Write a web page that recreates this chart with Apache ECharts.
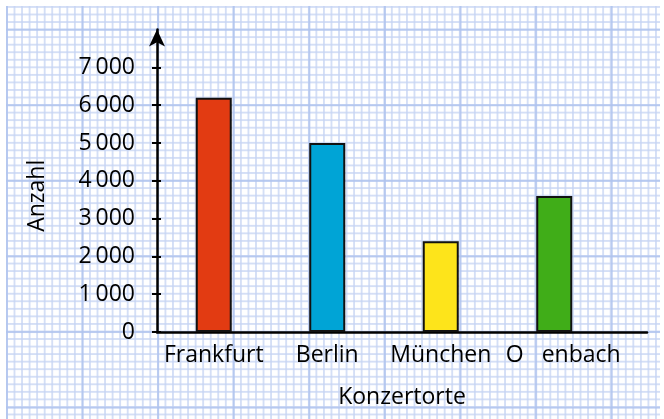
<!DOCTYPE html>
<html>
<head>
<meta charset="utf-8">
<script src="https://cdn.jsdelivr.net/npm/echarts@6/dist/echarts.min.js"></script>
<style>
html,body{margin:0;padding:0;background:#fff;}
#wrap{position:relative;width:664px;height:419px;overflow:hidden;background:#fff;}
#paper{position:absolute;left:6px;top:6px;width:654px;height:413px;
background-image:
 linear-gradient(to right, rgba(175,195,238,0.8) 2px, transparent 2px),
 linear-gradient(to bottom, rgba(175,195,238,0.8) 2px, transparent 2px),
 linear-gradient(to right, rgba(198,212,243,0.75) 1.5px, transparent 1.5px),
 linear-gradient(to bottom, rgba(198,212,243,0.75) 1.5px, transparent 1.5px);
background-size:75.6px 75.6px,75.6px 75.6px,7.56px 7.56px,7.56px 7.56px;
background-position:0px 0px,0px 22.7px,0px 0px,0px 0px;}
#chart{position:absolute;left:0;top:0;width:664px;height:419px;}
</style>
</head>
<body>
<div id="wrap"><div id="paper"></div><div id="chart"></div></div>
<script>
const categories = ['Frankfurt', 'Berlin', 'München', 'O   enbach'];
const values = [6200, 5000, 2400, 3600];
const colors = ['#e23b12', '#00a4d6', '#fde41b', '#40ad18'];
const tickValues = [0, 1000, 2000, 3000, 4000, 5000, 6000, 7000];

const font = '"Open Sans", "DejaVu Sans", sans-serif';
const fs = 23;
const chart = echarts.init(document.getElementById('chart'), null, {renderer: 'canvas'});
function fmt(v){ return v >= 1000 ? Math.floor(v/1000) + '\u2009' + String(v % 1000).padStart(3, '0') : String(v); }

chart.setOption({
  backgroundColor: 'transparent',
  animation: false,
  grid: [
    {left: 157, right: 53, top: 29.6, bottom: 87},
    {left: 157, right: 17, top: 29.6, bottom: 87}
  ],
  xAxis: [
    {
      type: 'category', gridIndex: 0, data: categories,
      axisLine: {show: false}, axisTick: {show: false},
      axisLabel: {
        interval: 0, hideOverlap: false,
        margin: 12, color: '#000', fontFamily: font, fontSize: fs,
        formatter: function(v, i){ return i === 3 ? '{o|' + v + '}' : v; },
        rich: {o: {padding: [0, 0, 0, 18], color: '#000', fontFamily: font, fontSize: fs}}
      },
      splitLine: {show: false}
    },
    {
      type: 'value', gridIndex: 1, min: 0, max: 1,
      axisLine: {show: true, onZero: false, lineStyle: {color: '#000', width: 2.5}},
      axisTick: {show: false}, axisLabel: {show: false}, splitLine: {show: false},
      name: 'Konzertorte', nameLocation: 'middle', nameGap: 54,
      nameTextStyle: {color: '#000', fontFamily: font, fontSize: fs}
    }
  ],
  yAxis: [
    {
      type: 'value', gridIndex: 0, position: 'left', min: 0, max: 8000, interval: 1000,
      axisLine: {show: true, lineStyle: {color: '#000', width: 2.5}, symbol: ['none', 'arrow'], symbolSize: [12, 17], symbolOffset: [0, 0]},
      axisTick: {show: true, length: 5, customValues: tickValues, lineStyle: {color: '#000', width: 2}},
      axisLabel: {margin: 22, customValues: tickValues, color: '#000', fontFamily: font, fontSize: fs, formatter: fmt},
      splitLine: {show: false},
      name: 'Anzahl', nameLocation: 'middle', nameGap: 108, nameRotate: 90,
      nameTextStyle: {color: '#000', fontFamily: font, fontSize: fs, padding: [0, 30, 0, 0]}
    },
    {
      type: 'value', gridIndex: 0, position: 'left', offset: 0, min: 0, max: 8000, interval: 1000,
      axisLine: {show: false},
      axisTick: {show: true, inside: true, length: 4, customValues: tickValues, lineStyle: {color: '#000', width: 2}},
      axisLabel: {show: false}, splitLine: {show: false}
    },
    {
      type: 'value', gridIndex: 1, min: 0, max: 1, show: false
    }
  ],
  series: [{
    type: 'bar', xAxisIndex: 0, yAxisIndex: 0, barWidth: 36,
    data: values.map((v, i) => ({value: v, itemStyle: {color: colors[i]}})),
    itemStyle: {borderColor: '#111', borderWidth: 2}
  }]
});
</script>
</body>
</html>
